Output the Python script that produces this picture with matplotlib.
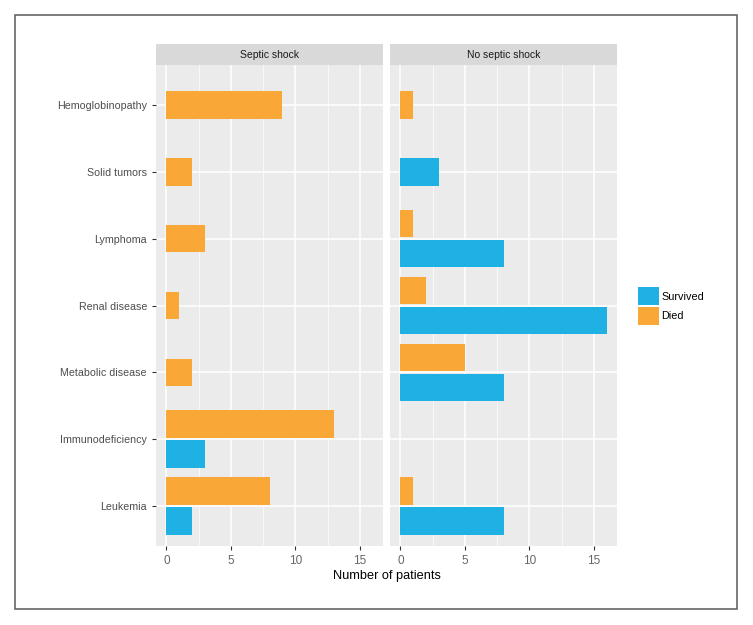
import matplotlib.pyplot as plt
from matplotlib.patches import Patch, Rectangle

# --------------------------------------------------
# Data
# --------------------------------------------------

categories = [
    "Leukemia",
    "Immunodeficiency",
    "Metabolic disease",
    "Renal disease",
    "Lymphoma",
    "Solid tumors",
    "Hemoglobinopathy",
]

panels = ["Septic shock", "No septic shock"]

# 0 = no bar for that group
septic_died = [8, 13, 2, 1, 3, 2, 9]
septic_survived = [2, 3, 0, 0, 0, 0, 0]

no_septic_died = [1, 0, 5, 2, 1, 0, 1]
no_septic_survived = [8, 0, 8, 16, 8, 3, 0]

x_ticks = [0, 5, 10, 15]

survived_color = "#1fb0e4"
died_color = "#f9a838"

plt.rcParams["font.family"] = ["Liberation Sans", "DejaVu Sans"]

# --------------------------------------------------
# Figure
# --------------------------------------------------

fig = plt.figure(figsize=(7.53, 6.25), dpi=100)

# outer frame
fig.patches.append(Rectangle(
    (15 / 753, 1 - 609 / 625), 722 / 753, 594 / 625,
    transform=fig.transFigure, fill=False,
    edgecolor="#666666", linewidth=1.2
))

panel_bottom = 1 - 546 / 625
panel_height = (546 - 65) / 625
strip_height = 21 / 625
lefts = [156 / 753, 390 / 753]
width = 227 / 753

series = [
    (septic_died, septic_survived),
    (no_septic_died, no_septic_survived),
]

bar_h = 0.41
offset = 0.225

for i, (died, survived) in enumerate(series):

    ax = fig.add_axes([lefts[i], panel_bottom, width, panel_height])
    ax.set_facecolor("#ebebeb")

    for m in [2.5, 7.5, 12.5]:
        ax.axvline(m, color="white", linewidth=0.5, zorder=0)
    for t in x_ticks:
        ax.axvline(t, color="white", linewidth=1.1, zorder=0)
    for y in range(len(categories)):
        ax.axhline(y, color="white", linewidth=1.1, zorder=0)

    for y in range(len(categories)):
        d = died[y]
        s = survived[y]
        if d > 0 and s > 0:
            ax.barh(y + offset, d, height=bar_h, color=died_color, zorder=2)
            ax.barh(y - offset, s, height=bar_h, color=survived_color, zorder=2)
        elif d > 0:
            ax.barh(y, d, height=bar_h, color=died_color, zorder=2)
        elif s > 0:
            ax.barh(y, s, height=bar_h, color=survived_color, zorder=2)

    ax.set_xlim(-0.8, 16.8)
    ax.set_ylim(-0.6, len(categories) - 0.4)

    ax.set_xticks(x_ticks)
    ax.set_xticklabels([str(t) for t in x_ticks])
    ax.set_yticks(range(len(categories)))

    ax.tick_params(colors="#333333", labelcolor="#4d4d4d",
                   length=3, width=0.8)
    ax.tick_params(axis="x", labelsize=8.5, labelcolor="#666666")
    ax.tick_params(axis="y", labelsize=7.7)

    if i == 0:
        ax.set_yticklabels(categories)
    else:
        ax.set_yticklabels([])
        ax.tick_params(axis="y", length=0)

    for sp in ax.spines.values():
        sp.set_visible(False)

    # strip
    sx = fig.add_axes([lefts[i], panel_bottom + panel_height, width, strip_height])
    sx.set_facecolor("#d9d9d9")
    sx.set_xticks([])
    sx.set_yticks([])
    for sp in sx.spines.values():
        sp.set_visible(False)
    sx.text(0.5, 0.5, panels[i], ha="center", va="center",
            fontsize=7.5, color="#1a1a1a", transform=sx.transAxes)

fig.text((156 + 617) / 2 / 753, 1 - 576 / 625, "Number of patients",
         ha="center", va="center", fontsize=9.2, color="#000000")

handles = [
    Patch(facecolor=survived_color, label="Survived"),
    Patch(facecolor=died_color, label="Died"),
]

fig.legend(
    handles=handles,
    loc="center left",
    bbox_to_anchor=(628 / 753, 1 - 306 / 625),
    frameon=False,
    fontsize=7.8,
    handlelength=2.0,
    handleheight=2.2,
    handletextpad=0.15,
    labelspacing=0.1,
)

plt.savefig("out.png", dpi=100)
plt.close()
